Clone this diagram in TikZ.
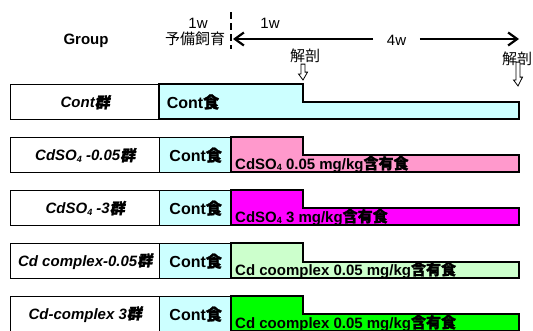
\documentclass[tikz,border=0pt]{standalone}
\usepackage{fontspec}
\setmainfont{Liberation Sans}
\newfontfamily\jp{Noto Sans CJK JP}
\newfontfamily\jpb{Noto Sans CJK JP}[FakeBold=1.6]
\newfontfamily\jpit{Noto Sans CJK JP}[FakeSlant=0.18,FakeBold=1.6]
\usetikzlibrary{arrows.meta}
\definecolor{cyanl}{HTML}{CCFFFF}
\definecolor{pinkl}{HTML}{FF99CC}
\definecolor{magen}{HTML}{FF00FF}
\definecolor{greenl}{HTML}{CCFFCC}
\definecolor{greenf}{HTML}{00FF00}
\newcommand\sbs[1]{\raisebox{-0.2ex}{\fontsize{9}{9}\selectfont #1}}
\begin{document}
\begin{tikzpicture}[x=1pt,y=-1pt,
  hdr/.style={font=\fontsize{15}{18}\selectfont, inner sep=0pt},
  lbl/.style={draw, line width=1.4pt, fill=white, minimum width=149pt, minimum height=35pt,
    inner sep=0pt, anchor=north west, font=\fontsize{15}{18}\selectfont\bfseries\itshape},
  contbox/.style={draw, line width=1.4pt, fill=cyanl, minimum width=72pt, minimum height=35pt,
    inner sep=0pt, anchor=north west, font=\fontsize{16}{18}\selectfont\bfseries},
  conttext/.style={inner sep=0pt, font=\fontsize{16}{18}\selectfont\bfseries},
  dose/.style={anchor=base west, inner sep=0pt, font=\fontsize{15}{18}\selectfont\bfseries},
  stepline/.style={draw=black, line width=1.4pt},
  timeline/.style={line width=2.2pt},
  hollow/.style={draw=black, line width=0.8pt, fill=white}
]
\clip (0,0) rectangle (533,330);
\fill[white] (0,0) rectangle (533,330);

% header
\node[hdr, font=\fontsize{15}{18}\selectfont\bfseries] (grp) at (86,41) {Group};
\node[hdr] (w1a) at (198,23) {1w};
\node[hdr] (yobi) at (195,39) {\jp 予備飼育};
\coordinate (dtop) at (231,12);
\coordinate (dbot) at (231,49);
\draw[line width=2.6pt, dash pattern=on 7pt off 4pt] (dtop) -- (dbot);
\node[hdr] (w1b) at (270,23) {1w};
\node[hdr, inner xsep=13.5pt, fill=white] (w4) at (396.5,40) {4w};
\coordinate (al) at (233,39);
\coordinate (ar) at (519,39);
\draw[timeline, -{Straight Barb[length=9pt,width=13pt]}] (w4.west |- al) -- (al);
\draw[timeline, -{Straight Barb[length=9pt,width=13pt]}] (w4.east |- ar) -- (ar);

\node[hdr] (k1) at (305,56) {\jp 解剖};
\node[hdr] (k2) at (517,59) {\jp 解剖};

% row 1
\node[lbl] (L1) at (10,84) {Cont{\jpit 群}};
\path[fill=cyanl, stepline] (159,84) -- (303,84) -- (303,102) -- (519,102) -- (519,119) -- (159,119) -- cycle;
\node[conttext] (C1) at (193,102) {Cont{\jpb 食}};

% row 2
\node[lbl] (L2) at (10,137) {CdSO\sbs{4} -0.05{\jpit 群}};
\node[contbox] (C2) at (159,137) {Cont{\jpb 食}};
\path[fill=pinkl, stepline] (231,137) -- (303,137) -- (303,155) -- (519,155) -- (519,172) -- (231,172) -- cycle;
\node[dose] (D2) at (235,169) {CdSO\sbs{4} 0.05 mg/kg{\jpb 含有食}};

% row 3
\node[lbl] (L3) at (10,190) {CdSO\sbs{4} -3{\jpit 群}};
\node[contbox] (C3) at (159,190) {Cont{\jpb 食}};
\path[fill=magen, stepline] (231,190) -- (303,190) -- (303,208) -- (519,208) -- (519,225) -- (231,225) -- cycle;
\node[dose] (D3) at (235,222) {CdSO\sbs{4} 3 mg/kg{\jpb 含有食}};

% row 4
\node[lbl] (L4) at (10,243) {Cd complex-0.05{\jpit 群}};
\node[contbox] (C4) at (159,243) {Cont{\jpb 食}};
\path[fill=greenl, stepline] (231,243) -- (303,243) -- (303,262) -- (519,262) -- (519,278) -- (231,278) -- cycle;
\node[dose] (D4) at (235,275) {Cd coomplex 0.05 mg/kg{\jpb 含有食}};

% row 5
\node[lbl] (L5) at (10,296) {Cd-complex 3{\jpit 群}};
\node[contbox] (C5) at (159,296) {Cont{\jpb 食}};
\path[fill=greenf, stepline] (231,296) -- (303,296) -- (303,314) -- (519,314) -- (519,331) -- (231,331) -- cycle;
\node[dose] (D5) at (235,328) {Cd coomplex 0.05 mg/kg{\jpb 含有食}};

% hollow arrows below 解剖
\coordinate (h1) at (303,80);
\coordinate (h2) at (518,86);
\path[hollow] (k1.south -| h1) ++(-2,1) -- ++(4,0) -- ++(0,8) -- ++(2.5,0) -- (h1) -- ++(-4.5,-6) -- ++(2.5,0) -- cycle;
\path[hollow] (k2.south -| h2) ++(-2,-4) -- ++(4,0) -- ++(0,15) -- ++(2.5,0) -- (h2) -- ++(-4.5,-6) -- ++(2.5,0) -- cycle;
\end{tikzpicture}
\end{document}
